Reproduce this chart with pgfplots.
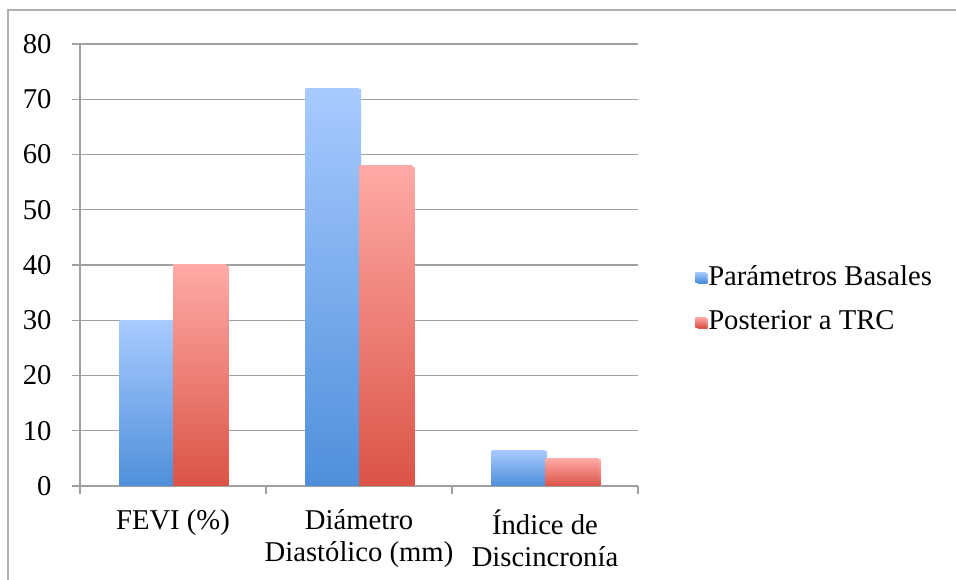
\documentclass[border=0pt]{standalone}
\usepackage{pgfplots}
\pgfplotsset{compat=1.18}
\usepackage{fontspec}
\setmainfont{Liberation Serif}
\definecolor{bluetop}{RGB}{168,202,255}
\definecolor{bluebot}{RGB}{79,143,218}
\definecolor{redtop}{RGB}{255,170,166}
\definecolor{redbot}{RGB}{218,83,70}
\definecolor{gridc}{RGB}{160,160,160}
\definecolor{framec}{RGB}{175,175,175}
\definecolor{shadowc}{RGB}{222,222,222}
\pgfplotsset{
  barshadow/.style={preaction={fill=shadowc, transform canvas={xshift=1.6pt, yshift=-1.2pt}}},
  bluebar/.style={ybar, bar width=40pt, bar shift=0pt, draw=none, barshadow, top color=bluetop, bottom color=bluebot},
  redbar/.style={ybar, bar width=40pt, bar shift=0pt, draw=none, barshadow, top color=redtop, bottom color=redbot},
}
\begin{document}
\fontsize{21.5}{25}\selectfont
\begin{tikzpicture}
\path[use as bounding box] (0,0) rectangle (717pt,435pt);
\draw[framec, line width=1.1pt] (6pt,-2pt) -- (6pt,427.5pt) -- (720pt,427.5pt);
\begin{axis}[
  at={(60pt,70.5pt)}, anchor=south west,
  scale only axis, width=418.5pt, height=331.5pt,
  xmin=-0.5, xmax=2.5, ymin=0, ymax=80,
  ytick={0,10,...,80},
  xtick={0,1,2},
  xticklabels={FEVI (\%),Diámetro\\Diastólico (mm),Índice de\\Discincronía},
  minor xtick={-0.5,0.5,1.5,2.5},
  axis x line*=bottom, axis y line*=left,
  axis line style={gridc, line width=1.1pt},
  tick align=outside,
  x tick style={draw=none},
  minor x tick style={draw=gridc, line width=1.1pt},
  y tick style={draw=gridc, line width=1.1pt},
  major tick length=6pt, minor tick length=6pt,
  ymajorgrids, grid style={gridc, line width=1.1pt},
  xticklabel style={align=center, font=\fontsize{21.5}{24}\selectfont, yshift=-4.5pt},
  yticklabel style={font=\fontsize{21.5}{25}\selectfont, xshift=-8pt},
  /pgf/number format/assume math mode=true,
  legend style={at={(1,0.5)}, anchor=west, draw=none, xshift=43pt, yshift=-26pt,
    font=\fontsize{21.5}{25}\selectfont, row sep=12pt, inner sep=0pt},
  legend cell align=left,
  legend image code/.code={\path[#1, draw=none, preaction={}] (0pt,-3.5pt) rectangle (7.5pt,4pt);},
]
\addplot[bluebar] coordinates {(-0.1438,30)};
\addplot[redbar] coordinates {(0.1438,40)};
\addplot[bluebar, forget plot] coordinates {(0.8562,72)};
\addplot[redbar, forget plot] coordinates {(1.1438,58)};
\addplot[bluebar, forget plot] coordinates {(1.8562,6.5)};
\addplot[redbar, forget plot] coordinates {(2.1438,5)};
\legend{Parámetros Basales, Posterior a TRC}
\end{axis}
\end{tikzpicture}
\end{document}
